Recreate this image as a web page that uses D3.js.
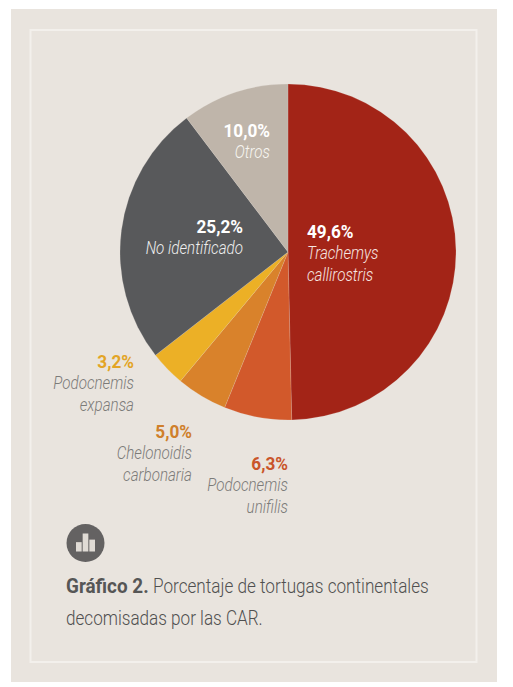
<!DOCTYPE html>
<html><head><meta charset="utf-8">
<script src="https://cdnjs.cloudflare.com/ajax/libs/d3/7.8.5/d3.min.js"></script>
<style>html,body{margin:0;padding:0;background:#fff}svg{display:block}
text{font-family:Roboto,"Liberation Sans",sans-serif}</style>
</head><body><svg id="c" width="513" height="687"></svg>
<script>
// Printed labels
const species=["Trachemys callirostris","Podocnemis unifilis","Chelonoidis carbonaria","Podocnemis expansa","No identificado","Otros"];
const valueLabels=["49,6%","6,3%","5,0%","3,2%","25,2%","10,0%"];
// Slice shares as actually drawn in the picture (they differ slightly from the printed labels)
const drawnShares=[49.6,6.5,4.9,3.4,25.2,10.3];
const colors=["#a32417","#d2592b","#d9822b","#ecb026","#58595b","#bfb5aa"];
const labelLines=[["Trachemys","callirostris"],["Podocnemis","unifilis"],["Chelonoidis","carbonaria"],["Podocnemis","expansa"],["No identificado"],["Otros"]];
const labelColors=["#fff","#c9552a","#cf7f2b","#e3a526","#fff","#fff"];
const subColors=["#f6e6e2","#7c7b79","#7c7b79","#7c7b79","#efefef","#f7f5f1"];
const labelPos=[{x:307,y:238,a:"start"},{x:288,y:470,a:"end"},{x:192,y:438,a:"end"},{x:134,y:368,a:"end"},{x:243,y:233,a:"end"},{x:270,y:137,a:"end"}];

const svg=d3.select("#c");
svg.append("rect").attr("x",11).attr("y",9).attr("width",486).attr("height",673).attr("fill","#e9e4de");
svg.append("rect").attr("x",30.5).attr("y",30).attr("width",446).attr("height",632).attr("fill","none").attr("stroke","#f3f0ec").attr("stroke-width",2);

const pie=d3.pie().sort(null).value(d=>d);
const arc=d3.arc().innerRadius(0).outerRadius(168);
const g=svg.append("g").attr("transform","translate(288,252)");
g.selectAll("path").data(pie(drawnShares)).join("path").attr("d",arc).attr("fill",(d,i)=>colors[i]).attr("stroke","#e9e4de").attr("stroke-opacity",.35).attr("stroke-width",.5);

function put(parent,x,y,str,size,weight,style,fill,anchor,sx){
  return parent.append("text").attr("transform",`translate(${x},${y}) scale(${sx},1)`)
   .attr("font-size",size).attr("font-weight",weight).attr("font-style",style).attr("fill",fill).attr("text-anchor",anchor).text(str);
}
labelPos.forEach((p,i)=>{
  put(svg,p.x,p.y,valueLabels[i],18.5,700,"normal",labelColors[i],p.a,.93);
  labelLines[i].forEach((l,j)=>put(svg,p.x,p.y+21+j*22,l,18.5,300,"italic",subColors[i],p.a,.82));
});

// icon
const barHeights=[2.6,5,3.3];
const icon=svg.append("g").attr("transform","translate(85.5,543)");
icon.append("circle").attr("r",19).attr("fill","#646262");
const ix=d3.scaleBand().domain([0,1,2]).range([-9.5,9.5]).paddingInner(.15);
const iy=d3.scaleLinear().domain([0,5]).range([8.5,-9.5]);
icon.selectAll("rect").data(barHeights).join("rect").attr("x",(d,i)=>ix(i)).attr("width",ix.bandwidth()).attr("y",d=>iy(d)).attr("height",d=>iy(0)-iy(d)).attr("fill","#e0dbd5");

put(svg,66,593,"Gráfico 2.",21,700,"normal","#565656","start",.9);
put(svg,153,593,"Porcentaje de tortugas continentales",21,300,"normal","#505050","start",.817);
put(svg,66,625,"decomisadas por las CAR.",21,300,"normal","#505050","start",.815);
</script></body></html>
